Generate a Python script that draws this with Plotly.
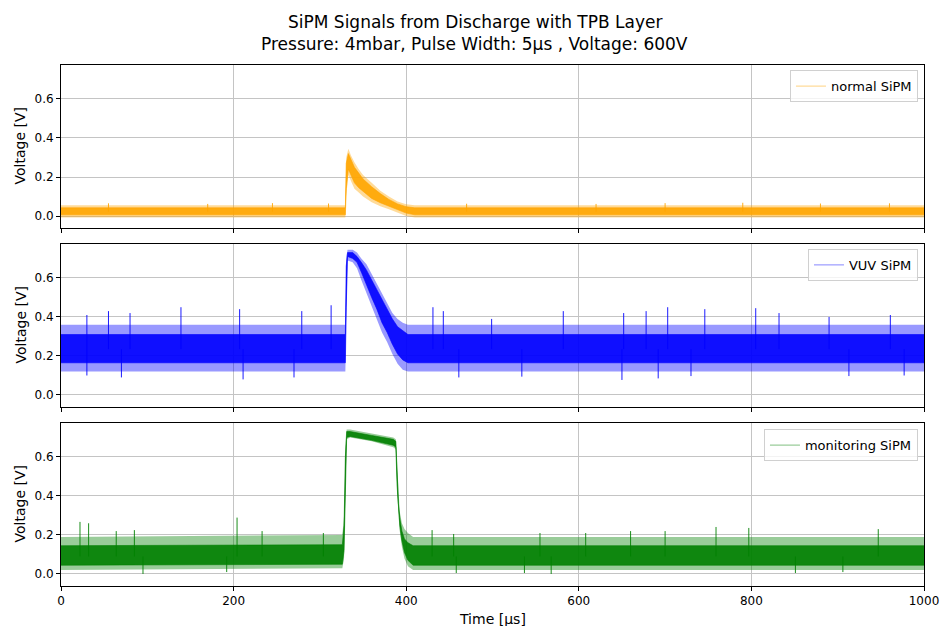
import plotly.graph_objects as go
from plotly.subplots import make_subplots

# ---------------- data ----------------
# normal SiPM (orange): envelopes of the noisy trace, time in µs, voltage in V
t_norm = [0, 329.5, 330.5, 333, 336, 340, 345, 350, 360, 370, 380, 390, 400, 410, 1000]
norm_outer_hi = [0.055, 0.055, 0.30, 0.345, 0.31, 0.275, 0.24, 0.21, 0.17, 0.13, 0.10, 0.075, 0.06, 0.055, 0.055]
norm_core_hi = [0.042, 0.042, 0.27, 0.32, 0.29, 0.25, 0.22, 0.19, 0.15, 0.115, 0.085, 0.062, 0.048, 0.042, 0.042]
norm_core_lo = [0.006, 0.006, 0.14, 0.24, 0.21, 0.17, 0.145, 0.125, 0.09, 0.068, 0.05, 0.032, 0.015, 0.006, 0.006]
norm_outer_lo = [-0.008, -0.008, 0.10, 0.21, 0.18, 0.14, 0.12, 0.10, 0.07, 0.05, 0.035, 0.018, 0.0, -0.008, -0.008]
norm_spike_t = [55, 170, 245, 310, 470, 620, 700, 790, 880, 960]
norm_spike_v = [0.065, 0.062, 0.066, 0.064, 0.063, 0.062, 0.066, 0.068, 0.064, 0.065]
norm_base = 0.022

# VUV SiPM (blue)
t_vuv = [0, 329.5, 330.5, 332, 338, 343, 348, 354, 360, 366, 372, 378, 384, 390, 396, 402, 1000]
vuv_outer_hi = [0.36, 0.36, 0.70, 0.745, 0.745, 0.73, 0.70, 0.67, 0.62, 0.57, 0.52, 0.47, 0.42, 0.39, 0.37, 0.36, 0.36]
vuv_core_hi = [0.31, 0.31, 0.66, 0.73, 0.73, 0.71, 0.68, 0.64, 0.59, 0.54, 0.49, 0.44, 0.39, 0.35, 0.33, 0.31, 0.31]
vuv_core_lo = [0.165, 0.165, 0.45, 0.71, 0.70, 0.68, 0.63, 0.56, 0.50, 0.44, 0.37, 0.32, 0.26, 0.21, 0.18, 0.165, 0.165]
vuv_outer_lo = [0.12, 0.12, 0.35, 0.69, 0.68, 0.65, 0.59, 0.52, 0.45, 0.39, 0.32, 0.27, 0.21, 0.16, 0.13, 0.12, 0.12]
vuv_spike_t = [30, 55, 80, 139, 207, 279, 313, 431, 443, 499, 582, 652, 678, 703, 746, 805, 832, 890, 961,
               30, 70, 211, 270, 461, 534, 650, 692, 730, 913, 977]
vuv_spike_v = [0.41, 0.43, 0.42, 0.45, 0.44, 0.43, 0.46, 0.45, 0.43, 0.39, 0.43, 0.42, 0.43, 0.45, 0.44, 0.445, 0.42, 0.40, 0.41,
               0.10, 0.09, 0.08, 0.09, 0.09, 0.094, 0.077, 0.085, 0.097, 0.097, 0.10]
vuv_base = 0.235

# monitoring SiPM (green)
t_mon = [0, 326, 328, 329.5, 331, 335, 360, 385, 388, 389.5, 391, 392.5, 395, 398, 402, 408, 1000]
mon_outer_hi = [0.19, 0.20, 0.30, 0.65, 0.74, 0.74, 0.72, 0.70, 0.69, 0.55, 0.40, 0.32, 0.26, 0.23, 0.21, 0.19, 0.19]
mon_core_hi = [0.145, 0.15, 0.25, 0.60, 0.73, 0.73, 0.71, 0.69, 0.68, 0.50, 0.36, 0.29, 0.22, 0.18, 0.16, 0.145, 0.145]
mon_core_lo = [0.045, 0.05, 0.12, 0.45, 0.70, 0.705, 0.685, 0.66, 0.65, 0.45, 0.33, 0.25, 0.17, 0.11, 0.07, 0.045, 0.045]
mon_outer_lo = [0.02, 0.03, 0.08, 0.40, 0.69, 0.70, 0.68, 0.65, 0.64, 0.42, 0.30, 0.22, 0.14, 0.08, 0.04, 0.02, 0.02]
mon_spike_t = [22, 32, 64, 85, 204, 233, 304, 430, 455, 555, 608, 660, 700, 759, 797, 947,
               95, 192, 458, 537, 568, 851, 906]
mon_spike_v = [0.267, 0.26, 0.22, 0.225, 0.289, 0.22, 0.21, 0.225, 0.205, 0.21, 0.21, 0.22, 0.22, 0.241, 0.236, 0.23,
               0.0, 0.01, 0.005, 0.005, 0.0, 0.005, 0.01]
mon_base = 0.09

x_ticks = [0, 200, 400, 600, 800, 1000]
y_ticks = [0.0, 0.2, 0.4, 0.6]

title_lines = ["SiPM Signals from Discharge with TPB Layer",
               "Pressure: 4mbar, Pulse Width: 5µs , Voltage: 600V"]
y_title = "Voltage [V]"
x_title = "Time [µs]"

series = [
    ("normal SiPM", "255,165,0", t_norm, norm_outer_hi, norm_core_hi, norm_core_lo, norm_outer_lo,
     norm_spike_t, norm_spike_v, norm_base),
    ("VUV SiPM", "0,0,255", t_vuv, vuv_outer_hi, vuv_core_hi, vuv_core_lo, vuv_outer_lo,
     vuv_spike_t, vuv_spike_v, vuv_base),
    ("monitoring SiPM", "0,128,0", t_mon, mon_outer_hi, mon_core_hi, mon_core_lo, mon_outer_lo,
     mon_spike_t, mon_spike_v, mon_base),
]

# ---------------- figure ----------------
fig = make_subplots(rows=3, cols=1, shared_xaxes=True)
font = "DejaVu Sans, Liberation Sans, sans-serif"

legend_tops = [0.990, 0.647, 0.301]
domains = [[0.6871, 1.0], [0.3436, 0.6564], [0.0, 0.3129]]

for i, (name, rgb, t, ohi, chi, clo, olo, st, sv, base) in enumerate(series):
    row = i + 1
    solid = f"rgb({rgb})"
    core = f"rgba({rgb},0.9)"
    soft = f"rgba({rgb},0.4)"
    leg = "legend" if i == 0 else f"legend{i + 1}"
    # outer band (sparser noise)
    fig.add_trace(go.Scatter(x=t, y=olo, mode="lines", line=dict(width=0, color=soft),
                             showlegend=False, hoverinfo="skip"), row=row, col=1)
    fig.add_trace(go.Scatter(x=t, y=ohi, mode="lines", line=dict(width=0, color=soft),
                             fill="tonexty", fillcolor=soft, showlegend=False, hoverinfo="skip"),
                  row=row, col=1)
    # dense core band
    fig.add_trace(go.Scatter(x=t, y=clo, mode="lines", line=dict(width=0.6, color=solid),
                             showlegend=False, hoverinfo="skip"), row=row, col=1)
    fig.add_trace(go.Scatter(x=t, y=chi, mode="lines", line=dict(width=0.6, color=solid),
                             fill="tonexty", fillcolor=core, showlegend=False, hoverinfo="skip"),
                  row=row, col=1)
    # individual noise spikes
    sx, sy = [], []
    for tt, vv in zip(st, sv):
        sx += [tt, tt, None]
        sy += [base, vv, None]
    fig.add_trace(go.Scatter(x=sx, y=sy, mode="lines", line=dict(width=0.9, color=solid),
                             showlegend=False, hoverinfo="skip"), row=row, col=1)
    # legend entry
    fig.add_trace(go.Scatter(x=[None], y=[None], mode="lines", name=name,
                             line=dict(width=1.2, color=f"rgba({rgb},0.4)"),
                             legend=leg), row=row, col=1)

axis_common = dict(showline=True, linecolor="black", linewidth=1, mirror=True,
                   ticks="outside", ticklen=4, tickcolor="black", automargin=False,
                   showgrid=True, gridcolor="#c4c4c4", gridwidth=1, zeroline=False,
                   tickfont=dict(family=font, size=12, color="black"))

for i in range(3):
    fig.update_xaxes(range=[0, 1000], tickvals=x_ticks, **axis_common, row=i + 1, col=1)
    fig.update_yaxes(range=[-0.0615, 0.774], tickvals=y_ticks, tickformat=".1f",
                     domain=domains[i], **axis_common, row=i + 1, col=1)

legend_style = dict(xanchor="right", x=0.993, yanchor="top", bgcolor="rgba(255,255,255,0.8)",
                    bordercolor="#d0d0d0", borderwidth=1,
                    font=dict(family=font, size=13, color="black"))

annotations = [
    dict(text=title_lines[0], x=0.5 - 18 / 863, y=1.0825, xref="paper", yref="paper", xanchor="center",
         yanchor="middle", showarrow=False, font=dict(family=font, size=17, color="black")),
    dict(text=title_lines[1], x=0.5 - 18 / 863, y=1.0403, xref="paper", yref="paper", xanchor="center",
         yanchor="middle", showarrow=False, font=dict(family=font, size=17, color="black")),
    dict(text=x_title, x=0.5, y=-0.0633, xref="paper", yref="paper", xanchor="center",
         yanchor="middle", showarrow=False, font=dict(family=font, size=14, color="black")),
]
for d in domains:
    annotations.append(dict(text=y_title, x=-41 / 863, y=(d[0] + d[1]) / 2, xref="paper", yref="paper",
                            xanchor="center", yanchor="middle", textangle=-90, showarrow=False,
                            font=dict(family=font, size=14, color="black")))

fig.update_layout(
    width=943, height=626,
    margin=dict(l=61, r=19, t=65, b=40),
    plot_bgcolor="white", paper_bgcolor="white",
    font=dict(family=font, color="black"),
    annotations=annotations,
    legend=dict(y=legend_tops[0], **legend_style),
    legend2=dict(y=legend_tops[1], **legend_style),
    legend3=dict(y=legend_tops[2], **legend_style),
    showlegend=True,
    hovermode=False,
)

fig.write_html("out.html", config={"displayModeBar": False},
               post_script="document.body.style.margin='0';document.body.style.overflow='hidden';")
